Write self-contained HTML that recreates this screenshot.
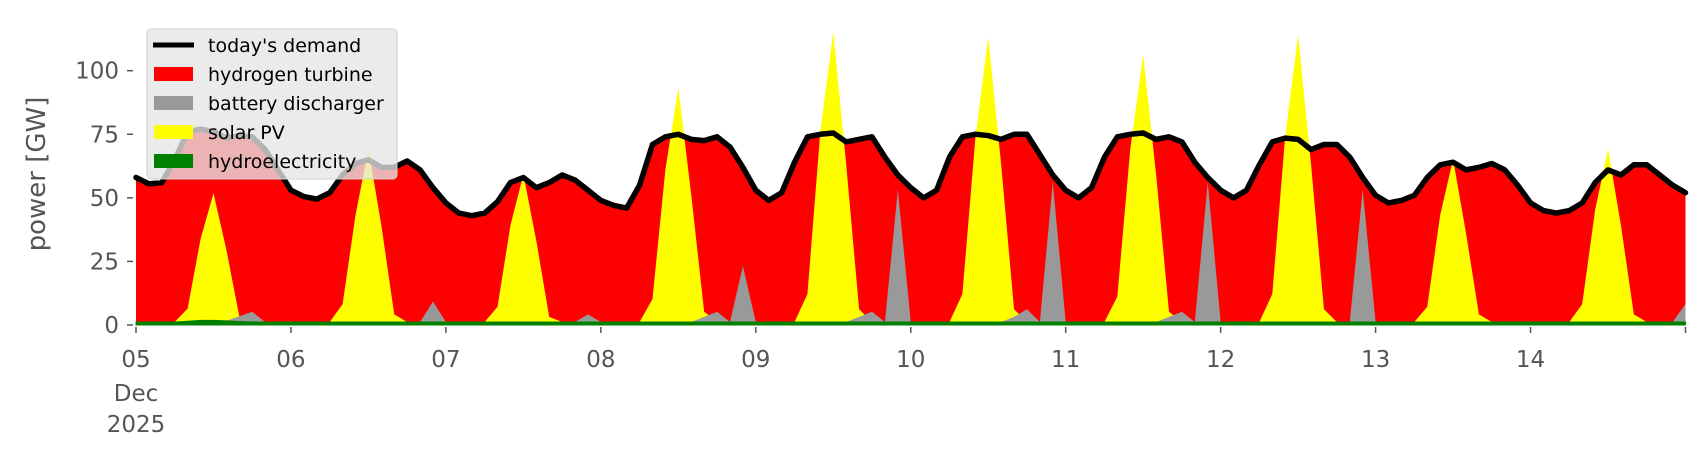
<!DOCTYPE html>
<html><head><meta charset="utf-8"><style>
html,body{margin:0;padding:0;background:#fff;}
svg{display:block;font-family:"DejaVu Sans","Liberation Sans",sans-serif;}
</style></head><body>
<svg id="chart" width="1706" height="460" viewBox="0 0 1706 460">
<g id="plot"></g>
<g id="axes"></g>
<text x="0" y="0" transform="translate(45,174) rotate(-90)" text-anchor="middle" font-size="26" fill="#555">power [GW]</text>
<g>
<rect x="147" y="29" width="250" height="150" rx="4" fill="rgba(229,229,229,0.78)" stroke="#d0d0d0"/>
<line x1="153" y1="45" x2="194" y2="45" stroke="#000" stroke-width="5"/>
<text x="208" y="52" font-size="19" fill="#000">today's demand</text>
<rect x="154" y="67" width="39" height="14" fill="#ff0000"/>
<text x="208" y="81" font-size="19" fill="#000">hydrogen turbine</text>
<rect x="154" y="96" width="39" height="14" fill="#999"/>
<text x="208" y="110" font-size="19" fill="#000">battery discharger</text>
<rect x="154" y="125" width="39" height="14" fill="#ffff00"/>
<text x="208" y="139" font-size="19" fill="#000">solar PV</text>
<rect x="154" y="154" width="39" height="14" fill="#008000"/>
<text x="208" y="168" font-size="19" fill="#000">hydroelectricity</text>
</g>
</svg>
<script>
// 2-hourly samples, 05 Dec 00:00 to 15 Dec 00:00 (121 points)
const demand = [
58,55.5,56,65,76,77,76,73.5,74.5,74,69,61,
53,50.5,49.5,52,59,63.5,65,62,62,64.5,61,54,
48,44,43,44,48.5,56,58,54,56,59,57,53,
49,47,46,55,71,74,75,73,72.5,74,70,62,
53,49,52,64,74,75,75.5,72,73,74,66,59,
54,50,53,66,74,75,74.5,73,75,75,67,59,
53,50,54,66,74,75,75.5,73,74,72,64,58,
53,50,53,63,72,73.5,73,69,71,71,66,58,
51,48,49,51,58,63,64,61,62,63.5,61,55,
48,45,44,45,48,56,61,59,63,63,59,55,52];
const solar = [
0,0,0,0,5,32,50,28,2,0,0,0,
0,0,0,0,7,42,68,38,3,0,0,0,
0,0,0,0,6,38,58,32,2,0,0,0,
0,0,0,0,9,60,92,50,4,0,0,0,
0,0,0,0,11,75,114,62,5,0,0,0,
0,0,0,0,11,72,112,62,5,0,0,0,
0,0,0,0,10,68,105,58,4,0,0,0,
0,0,0,0,11,73,113,62,5,0,0,0,
0,0,0,0,6,42,64,35,3,0,0,0,
0,0,0,0,7,44,68,38,3,0,0,0,0];
const battery = [
0,0,0,0,0,0,0,0,2,4,0,0,
0,0,0,0,0,0,0,0,0,0,0,8,
0,0,0,0,0,0,0,0,0,0,0,3,
0,0,0,0,0,0,0,0,2,4,0,22,
0,0,0,0,0,0,0,0,2,4,0,52,
0,0,0,0,0,0,0,0,2,5,0,55,
0,0,0,0,0,0,0,0,2,4,0,55,
0,0,0,0,0,0,0,0,0,0,0,52,
0,0,0,0,0,0,0,0,0,0,0,0,
0,0,0,0,0,0,0,0,0,0,0,0,7];
const hydro = [
1.2,1.2,1.2,1.2,1.5,1.8,1.8,1.6,1.4,1.2,1.2,1.2,
1.2,1.2,1.2,1.2,1.2,1.2,1.2,1.2,1.2,1.2,1.2,1.2,
1.2,1.2,1.2,1.2,1.2,1.2,1.2,1.2,1.2,1.2,1.2,1.2,
1.2,1.2,1.2,1.2,1.2,1.2,1.2,1.2,1.2,1.2,1.2,1.2,
1.2,1.2,1.2,1.2,1.2,1.2,1.2,1.2,1.2,1.2,1.2,1.2,
1.2,1.2,1.2,1.2,1.2,1.2,1.2,1.2,1.2,1.2,1.2,1.2,
1.2,1.2,1.2,1.2,1.2,1.2,1.2,1.2,1.2,1.2,1.2,1.2,
1.2,1.2,1.2,1.2,1.2,1.2,1.2,1.2,1.2,1.2,1.2,1.2,
1.2,1.2,1.2,1.2,1.2,1.2,1.2,1.2,1.2,1.2,1.2,1.2,
1.2,1.2,1.2,1.2,1.2,1.2,1.2,1.2,1.2,1.2,1.2,1.2,1.2];
const yTicks = [0,25,50,75,100];
const xTickLabels = ["05","06","07","08","09","10","11","12","13","14"];
const hoursPerSample = 2;

const NS = "http://www.w3.org/2000/svg";
const X0 = 136, X1 = 1685.5, Y0 = 325, PXGW = 2.543;
function xDay(d){ return X0 + d * (X1 - X0) / 10; }
function xIdx(i){ return xDay(i * hoursPerSample / 24); }
function yv(v){ return Y0 - v * PXGW; }
function mk(tag, attrs, parent){ const e = document.createElementNS(NS, tag); for (const k in attrs) e.setAttribute(k, attrs[k]); parent.appendChild(e); return e; }
function area(lower, upper){
  let d = "";
  for (let i = 0; i < upper.length; i++) d += (i ? "L" : "M") + xIdx(i).toFixed(2) + "," + yv(upper[i]).toFixed(2);
  for (let i = lower.length - 1; i >= 0; i--) d += "L" + xIdx(i).toFixed(2) + "," + yv(lower[i]).toFixed(2);
  return d + "Z";
}
const plot = document.getElementById("plot");
const axes = document.getElementById("axes");
const zero = demand.map(() => 0);
const hydroTop = hydro.slice();
const solarTop = hydro.map((h, i) => h + solar[i]);
const batTop = hydro.map((h, i) => h + battery[i]);

const red = mk("path", {d: area(zero, demand), fill: "#ff0000"}, plot);


const yel = mk("path", {d: area(hydroTop, solarTop), fill: "#ffff00"}, plot);


const gry = mk("path", {d: area(hydroTop, batTop), fill: "#999999"}, plot);


const grn = mk("path", {d: area(zero, hydro), fill: "#008000", stroke: "#008000", "stroke-width": 1}, plot);


let ld = "";
for (let i = 0; i < demand.length; i++) ld += (i ? "L" : "M") + xIdx(i).toFixed(2) + "," + yv(demand[i]).toFixed(2);
const line = mk("path", {d: ld, fill: "none", stroke: "#000", "stroke-width": 5.5, "stroke-linejoin": "round", "stroke-linecap": "round"}, plot);



yTicks.forEach(v => {
  const t = mk("line", {x1: 127, x2: 133, y1: yv(v), y2: yv(v), stroke: "#555", "stroke-width": 1.5}, axes);
  
  
  const l = mk("text", {x: 119, y: yv(v) + 8, "text-anchor": "end", "font-size": 23, fill: "#555"}, axes);
  l.textContent = String(v);
  
  
});
for (let d = 0; d <= 10; d++) {
  const t = mk("line", {x1: xDay(d), x2: xDay(d), y1: 327, y2: 333, stroke: "#555", "stroke-width": 1.5}, axes);
  
  
}
xTickLabels.forEach((s, d) => {
  const l = mk("text", {x: xDay(d), y: 367, "text-anchor": "middle", "font-size": 23, fill: "#555"}, axes);
  l.textContent = s;
  
  
});
const m = mk("text", {x: xDay(0), y: 401, "text-anchor": "middle", "font-size": 23, fill: "#555"}, axes);
m.textContent = "Dec";


const yr = mk("text", {x: xDay(0), y: 432, "text-anchor": "middle", "font-size": 23, fill: "#555"}, axes);
yr.textContent = "2025";


</script>
</body></html>
